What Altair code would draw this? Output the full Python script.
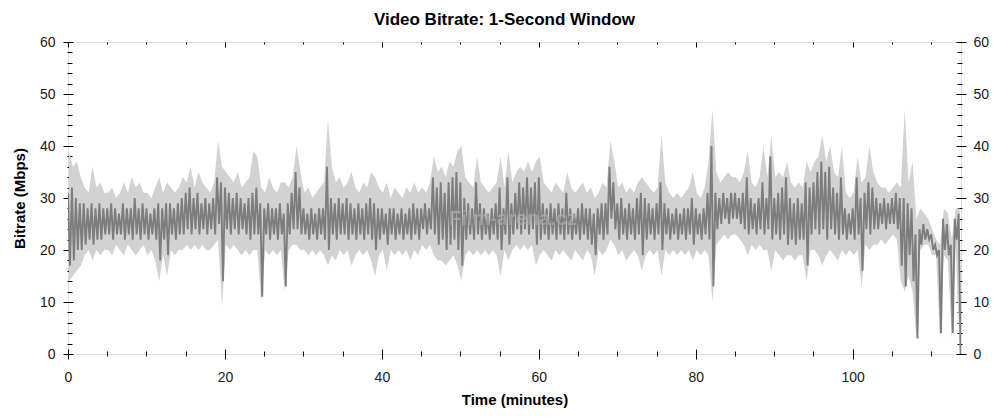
import altair as alt
import pandas as pd

TITLE = "Video Bitrate: 1-Second Window"
X_TITLE = "Time (minutes)"
Y_TITLE = "Bitrate (Mbps)"
WATERMARK = "Film-arena.cz"

X_MAJOR = [0, 20, 40, 60, 80, 100]
X_MINOR = [5, 10, 15, 25, 30, 35, 45, 50, 55, 65, 70, 75, 85, 90, 95, 105, 110]
Y_MAJOR = [0, 10, 20, 30, 40, 50, 60]
Y_MINOR = [2, 4, 6, 8, 12, 14, 16, 18, 22, 24, 26, 28, 32, 34, 36, 38,
           42, 44, 46, 48, 52, 54, 56, 58]
X_MAX = 113.8
BIN_MINUTES = 0.5

# per half-minute bin: upper / lower swing of the dark (1-second) trace
dark_hi = [
    31, 32, 30, 29, 29, 28, 29, 28, 29, 28,
    28, 29, 28, 27, 29, 28, 28, 30, 28, 29,
    28, 27, 28, 29, 28, 29, 29, 28, 29, 30,
    31, 32, 30, 31, 29, 30, 29, 30, 34, 33,
    32, 31, 30, 31, 30, 29, 30, 31, 32, 29,
    28, 29, 28, 28, 29, 27, 29, 31, 35, 32,
    28, 27, 28, 27, 28, 28, 36, 30, 29, 30,
    29, 30, 29, 28, 29, 28, 29, 30, 29, 28,
    28, 27, 28, 28, 27, 28, 27, 28, 29, 28,
    28, 29, 28, 34, 32, 33, 31, 33, 34, 35,
    33, 30, 29, 28, 33, 29, 28, 27, 28, 29,
    32, 28, 34, 29, 31, 33, 32, 34, 32, 33,
    34, 29, 28, 29, 28, 29, 28, 31, 28, 27,
    28, 29, 28, 28, 27, 28, 29, 29, 36, 33,
    29, 30, 28, 29, 28, 30, 31, 30, 29, 28,
    29, 33, 29, 28, 27, 28, 27, 28, 28, 30,
    28, 27, 28, 31, 40, 31, 30, 31, 30, 31,
    31, 30, 31, 34, 30, 29, 30, 33, 30, 38,
    30, 31, 32, 34, 30, 29, 30, 29, 33, 32,
    33, 35, 37, 35, 36, 32, 31, 34, 28, 27,
    28, 34, 30, 31, 33, 32, 30, 29, 30, 29,
    30, 31, 30, 30, 29, 28, 23, 24, 25, 24,
    23, 21, 20, 26, 25, 21, 26, 27,
]
dark_lo = [
    17, 18, 20, 20, 21, 22, 21, 22, 22, 23,
    23, 22, 23, 23, 22, 23, 22, 23, 22, 23,
    22, 23, 22, 18, 22, 19, 23, 22, 23, 23,
    24, 23, 24, 23, 24, 23, 24, 23, 25, 14,
    24, 23, 24, 23, 24, 23, 22, 23, 23, 11,
    23, 22, 23, 22, 23, 13, 23, 24, 24, 23,
    23, 22, 23, 22, 23, 22, 20, 23, 22, 23,
    23, 22, 23, 22, 23, 22, 23, 22, 20, 22,
    23, 21, 23, 22, 23, 22, 23, 22, 23, 22,
    24, 23, 24, 23, 21, 22, 20, 21, 22, 20,
    17, 22, 23, 22, 23, 22, 23, 22, 23, 22,
    20, 23, 21, 23, 24, 23, 24, 23, 24, 21,
    22, 23, 22, 23, 22, 23, 22, 23, 22, 23,
    22, 23, 22, 21, 19, 23, 22, 23, 26, 24,
    22, 23, 22, 23, 22, 23, 19, 22, 23, 22,
    23, 20, 23, 22, 23, 22, 23, 22, 23, 21,
    23, 22, 23, 22, 13, 24, 25, 26, 25, 26,
    26, 25, 24, 23, 24, 23, 24, 23, 24, 22,
    23, 22, 23, 21, 22, 21, 22, 22, 17, 23,
    24, 23, 24, 22, 24, 23, 22, 23, 22, 23,
    22, 23, 16, 24, 23, 24, 24, 25, 24, 25,
    25, 24, 17, 13, 19, 14, 3, 21, 22, 22,
    20, 19, 4, 20, 19, 4, 22, 0,
]
# per half-minute bin: upper / lower edge of the light grey envelope
light_hi = [
    39, 36, 37, 34, 32, 31, 36, 32, 33, 31,
    31, 32, 30, 31, 33, 31, 34, 32, 33, 31,
    31, 30, 32, 34, 31, 33, 32, 31, 32, 34,
    33, 36, 32, 35, 33, 32, 31, 33, 41, 36,
    35, 34, 33, 35, 32, 33, 34, 39, 38, 32,
    31, 34, 32, 31, 33, 33, 32, 34, 40, 35,
    31, 32, 30, 31, 32, 33, 45, 36, 33, 34,
    32, 33, 35, 32, 31, 33, 32, 35, 34, 32,
    31, 33, 30, 32, 31, 30, 32, 31, 33, 31,
    32, 31, 33, 38, 35, 36, 34, 37, 36, 39,
    40, 34, 33, 32, 38, 33, 32, 31, 32, 33,
    38, 32, 39, 33, 35, 36, 35, 37, 35, 37,
    38, 33, 32, 31, 33, 32, 31, 35, 32, 31,
    32, 33, 31, 32, 30, 31, 33, 32, 41, 37,
    32, 33, 31, 32, 31, 33, 34, 33, 32, 31,
    32, 42, 33, 31, 30, 31, 30, 31, 32, 35,
    31, 30, 32, 37, 47, 35, 33, 34, 35, 34,
    34, 33, 35, 39, 33, 32, 34, 40, 34, 42,
    34, 35, 34, 37, 33, 32, 33, 32, 37, 35,
    37, 38, 42, 37, 40, 35, 34, 40, 31, 30,
    31, 38, 33, 34, 40, 35, 33, 32, 32, 31,
    32, 33, 32, 47, 33, 37, 26, 28, 27, 26,
    24, 22, 21, 28, 27, 22, 28, 28,
]
light_lo = [
    14, 15, 16, 17, 19, 20, 18, 20, 19, 20,
    20, 19, 21, 20, 19, 21, 20, 19, 20, 21,
    19, 20, 18, 14, 19, 15, 20, 19, 20, 20,
    21, 20, 21, 20, 21, 20, 20, 21, 22, 9,
    21, 20, 21, 20, 19, 20, 19, 20, 20, 10,
    20, 19, 20, 19, 20, 12, 20, 21, 21, 20,
    20, 19, 20, 19, 20, 19, 17, 19, 18, 20,
    19, 20, 17, 19, 20, 19, 20, 18, 15, 19,
    20, 16, 20, 19, 20, 19, 20, 18, 20, 19,
    21, 20, 21, 19, 18, 18, 17, 18, 19, 17,
    14, 19, 20, 19, 20, 19, 20, 19, 20, 19,
    15, 20, 18, 20, 21, 20, 21, 20, 21, 17,
    19, 20, 19, 18, 20, 19, 20, 19, 18, 20,
    19, 18, 20, 19, 15, 20, 19, 20, 22, 21,
    19, 20, 18, 19, 20, 19, 16, 19, 20, 19,
    20, 15, 20, 19, 20, 19, 20, 19, 20, 18,
    20, 19, 20, 19, 10, 21, 22, 23, 22, 23,
    23, 22, 21, 19, 21, 20, 21, 20, 20, 16,
    20, 19, 18, 19, 19, 18, 19, 19, 14, 20,
    20, 19, 17, 19, 20, 19, 18, 20, 19, 20,
    19, 20, 13, 21, 20, 21, 21, 22, 21, 22,
    23, 22, 14, 12, 15, 12, 3, 20, 21, 21,
    19, 19, 3, 19, 18, 3, 21, 0,
]

# dark trace: zig-zag between the bin's upper and lower swing
zig = []
for i in range(len(dark_hi)):
    t0 = i * BIN_MINUTES
    zig.append({"t": t0, "v": dark_hi[i]})
    zig.append({"t": t0 + BIN_MINUTES / 2, "v": dark_lo[i]})
df_dark = pd.DataFrame(zig)

# light envelope: one band per bin
df_light = pd.DataFrame({
    "t": [i * BIN_MINUTES + BIN_MINUTES / 4 for i in range(len(light_hi))],
    "lo": light_lo,
    "hi": light_hi,
})

FONT = "Liberation Sans"
xs = alt.Scale(domain=[0, X_MAX], nice=False, zero=False)
ys = alt.Scale(domain=[0, 60], nice=False)

common = dict(domain=False, grid=False, tickColor="black", tickWidth=1,
              minExtent=0)

x_major = alt.Axis(orient="bottom", values=X_MAJOR, tickSize=10, offset=-5,
                   labelFontSize=14, labelPadding=11, labelColor="#1a1a1a",
                   labelFont=FONT, labelFlush=False, title=X_TITLE, titleFont=FONT,
                   titleFontSize=15, titleFontWeight="bold", titleColor="black",
                   titleX=446.5, titleY=55.5, titleBaseline="alphabetic",
                   titleAnchor="middle", **common)
y_major = alt.Axis(orient="left", values=Y_MAJOR, tickSize=10, offset=-5,
                   labelFontSize=14, labelPadding=8, labelColor="#1a1a1a",
                   labelFont=FONT, labelFlush=False, title=Y_TITLE, titleFont=FONT,
                   titleFontSize=15, titleFontWeight="bold", titleColor="black",
                   titleX=-49, titleY=156, titleBaseline="alphabetic",
                   titleAngle=-90, titleAnchor="middle", **common)
x_minor = alt.Axis(orient="bottom", values=X_MINOR, tickSize=5, offset=-3,
                   labels=False, title=None, **common)
y_minor = alt.Axis(orient="left", values=Y_MINOR, tickSize=5, offset=-4,
                   labels=False, title=None, **common)
x_top = alt.Axis(orient="top", values=X_MAJOR, tickSize=5, offset=-5,
                 labels=False, title=None, **common)
y_right = alt.Axis(orient="right", values=Y_MAJOR, tickSize=10, offset=-5,
                   labelFontSize=14, labelPadding=7, labelColor="#1a1a1a",
                   labelFont=FONT, labelFlush=False, title=None, **common)
x_top_minor = alt.Axis(orient="top", values=X_MINOR, tickSize=2, offset=-2,
                       labels=False, title=None, **common)
y_right_minor = alt.Axis(orient="right", values=Y_MINOR, tickSize=5, offset=-4,
                         labels=False, title=None, **common)

light = alt.Chart(df_light).mark_area(color="#d2d2d2", clip=True).encode(
    x=alt.X("t:Q", scale=xs, axis=x_major),
    y=alt.Y("lo:Q", scale=ys, axis=y_major),
    y2="hi:Q",
)
dark = alt.Chart(df_dark).mark_line(color="#7d7d7d", strokeWidth=1.9, clip=True).encode(
    x=alt.X("t:Q", scale=xs, axis=x_minor),
    y=alt.Y("v:Q", scale=ys, axis=y_minor),
)
ghost1 = alt.Chart(df_dark).mark_line(opacity=0).encode(
    x=alt.X("t:Q", scale=xs, axis=x_top),
    y=alt.Y("v:Q", scale=ys, axis=y_right),
)
ghost2 = alt.Chart(df_dark).mark_line(opacity=0).encode(
    x=alt.X("t:Q", scale=xs, axis=x_top_minor),
    y=alt.Y("v:Q", scale=ys, axis=y_right_minor),
)
wm = alt.Chart(pd.DataFrame({"label": [WATERMARK]})).mark_text(
    font=FONT, fontSize=20, fontWeight="bold", color="#b8b8b8", opacity=0.55,
).encode(text="label:N", x=alt.value(445), y=alt.value(177))
title = alt.Chart(pd.DataFrame({"label": [TITLE]})).mark_text(
    font=FONT, fontSize=17, fontWeight="bold", color="black",
    align="center", baseline="alphabetic",
).encode(text="label:N", x=alt.value(436.5), y=alt.value(-17))

chart = (
    alt.layer(light, dark, ghost1, ghost2, wm, title)
    .resolve_axis(x="independent", y="independent")
    .properties(
        width=893, height=312,
        padding={"left": 60, "top": 34, "right": 35, "bottom": 58},
        autosize=alt.AutoSizeParams(type="none"),
    )
    .configure_view(stroke="black", strokeWidth=1)
    .configure(font=FONT)
)

chart.save("out.html", embed_options={"renderer": "svg", "actions": False})
